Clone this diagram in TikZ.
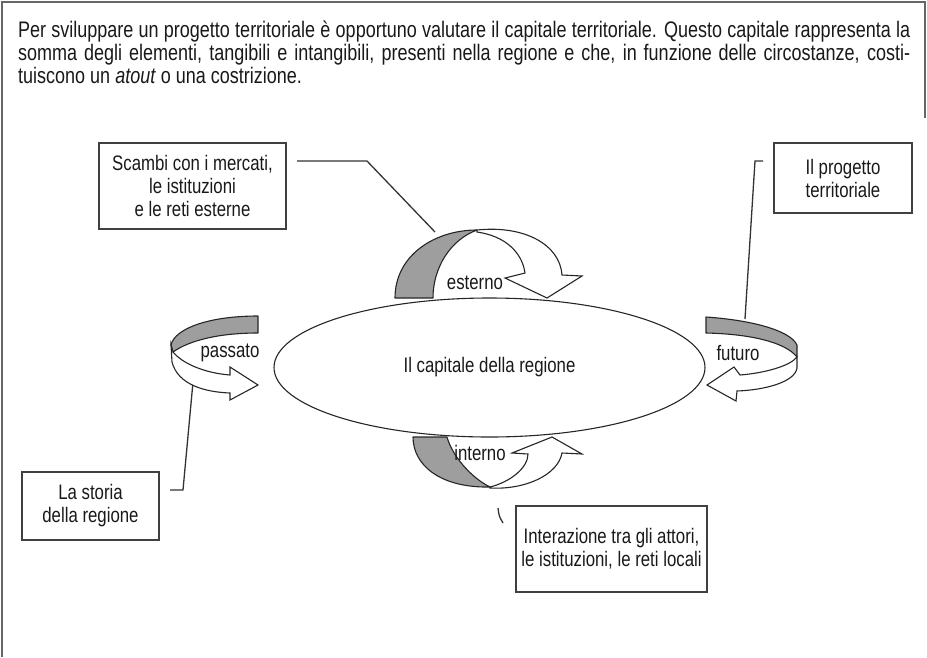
\documentclass[tikz,border=0pt]{standalone}
\usepackage{fontspec}
\setmainfont{Liberation Sans}[FakeStretch=0.8]
\usetikzlibrary{shapes,arrows,positioning}

\begin{document}
\begin{tikzpicture}[
    x=1pt, y=-1pt,
    txt/.style={font=\fontsize{21}{23}\selectfont, text=black!90},
    infobox/.style={rectangle, draw=black!75, line width=1.6pt, txt, align=center, inner sep=0pt},
    leader/.style={draw=black!80, line width=1.3pt},
    back/.style={draw=black!85, fill=black!38, line width=1.1pt, line join=round},
    front/.style={draw=black!85, fill=white, line width=1.1pt}
]
\useasboundingbox (0,0) rectangle (927,657);

% Frame
\draw[draw=black!60, line width=2pt] (2,657) -- (2,2) -- (925,2) -- (925,118);

% Intro text
\node[txt, font=\fontsize{22.5}{23}\selectfont, anchor=north west, inner sep=0pt, text width=892pt, align=justify] (intro) at (18,21)
    {\tolerance=9999 Per sviluppare un progetto territoriale è opportuno valutare il capitale territoriale. Questo capitale rappresenta la\linebreak
     somma degli elementi, tangibili e intangibili, presenti nella regione e che, in funzione delle circostanze, costi-\linebreak
     tuiscono un \textit{atout} o una costrizione.};

% Centre
\node[ellipse, draw=black!85, line width=1.1pt, minimum width=431pt, minimum height=139pt, inner sep=0pt, txt] (capitale) at (489.5,367.5) {Il capitale della regione};

% Boxes
\node[infobox, minimum width=187pt, minimum height=86pt] (scambi) at (192.5,186) {Scambi con i mercati,\\le istituzioni\\e le reti esterne};
\node[infobox, minimum width=138pt, minimum height=70pt] (progetto) at (843,178) {Il progetto\\territoriale};
\node[infobox, minimum width=137pt, minimum height=68pt] (storia) at (90.5,506) {La storia\\della regione};
\node[infobox, minimum width=191pt, minimum height=86pt] (interazione) at (611.5,549) {Interazione tra gli attori,\\le istituzioni, le reti locali};

% Leaders
\coordinate (scambiA) at (297,161);
\coordinate (scambiB) at (367,161);
\coordinate (scambiC) at (435,232);
\coordinate (progettoA) at (763,161);
\coordinate (progettoB) at (755,161);
\coordinate (progettoC) at (745,319);
\coordinate (storiaA) at (193,382);
\coordinate (storiaB) at (183,490);
\coordinate (storiaC) at (170,490);
\coordinate (interazioneA) at (498,508);
\coordinate (interazioneB) at (503,523);
\draw[leader] (scambiA) -- (scambiB) -- (scambiC);
\draw[leader] (progettoA) -- (progettoB) -- (progettoC);
\draw[leader] (storiaA) -- (storiaB) -- (storiaC);
\draw[leader] (interazioneA) .. controls (499,516) .. (interazioneB);

% Ribbon arrows
% esterno
\draw[back] (395,298) .. controls (395,255) and (435,230) .. (477,230) .. controls (450,240) and (433,268) .. (433,298) -- cycle;
\draw[front] (477,230) .. controls (525,225) and (560,245) .. (562,275) -- (582,276) -- (547,298) -- (505,278) -- (525,273) .. controls (522,252) and (505,236) .. (477,232) -- cycle;
% futuro
\draw[back] (706,317) .. controls (750,320) and (790,330) .. (797,345) -- (797,357) .. controls (785,342) and (750,334) .. (706,333) -- cycle;
\draw[front] (797,357) -- (797,368) .. controls (795,382) and (765,390) .. (737,391) -- (736,401) -- (707,385) -- (734,367) -- (740,375) .. controls (765,373) and (790,366) .. (797,357) -- cycle;
% passato
\draw[back] (258,316) .. controls (210,316) and (175,328) .. (171,345) -- (173,352) .. controls (190,340) and (220,333) .. (258,333) -- cycle;
\draw[front] (171,345) -- (172,362) .. controls (178,385) and (205,392) .. (230,393) -- (230,400) -- (258,385) -- (230,367) -- (230,375) .. controls (205,373) and (183,364) .. (173,352) -- cycle;
% interno
\draw[back] (413,437) -- (447,437) .. controls (452,455) and (470,477) .. (490,487) .. controls (440,488) and (413,465) .. (413,437) -- cycle;
\draw[front] (490,488) .. controls (525,490) and (558,475) .. (562,453) -- (582,454) -- (552,437) -- (512,453) -- (528,454) .. controls (528,468) and (510,482) .. (490,487) -- cycle;

% Ribbon labels
\node[txt] (esterno) at (475,283) {esterno};
\node[txt] (passato) at (230,353) {passato};
\node[txt] (futuro) at (738,353) {futuro};
\node[txt] (interno) at (480,453) {interno};
\end{tikzpicture}
\end{document}
